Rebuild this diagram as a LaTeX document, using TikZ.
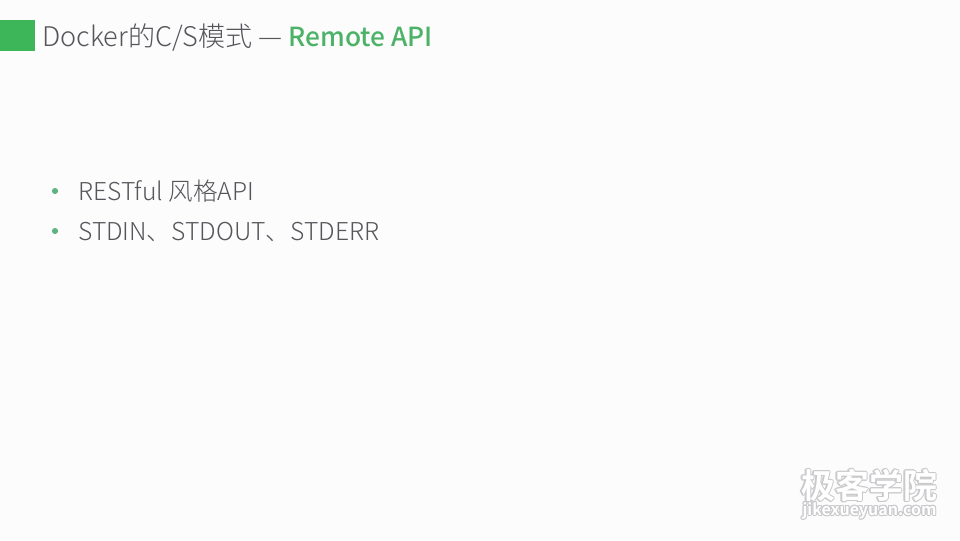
\documentclass[tikz,border=0pt]{standalone}
\usepackage{fontspec}
\usepackage{contour}
\setmainfont{Noto Sans CJK SC}
\newfontfamily\lightfont{Noto Sans CJK SC Light}
\contourlength{0.8pt}
\contournumber{12}
\definecolor{slidebg}{HTML}{FCFCFD}
\definecolor{accent}{HTML}{3DB65A}
\definecolor{titlegreen}{HTML}{4CB267}
\definecolor{bodygray}{HTML}{55555A}
\definecolor{bulletgreen}{HTML}{5FB37E}
\definecolor{markgray}{HTML}{CACACD}

\tikzset{
  px/.style={x=0.75pt,y=-0.75pt},
  titletext/.style={anchor=base west,inner sep=0pt,text=bodygray,font=\fontsize{20.3}{24}\lightfont},
  itemtext/.style={anchor=base west,inner sep=0pt,text=bodygray,font=\fontsize{18.45}{22}\lightfont},
  itemdot/.style={circle,fill=bulletgreen,inner sep=0pt,minimum size=4.6pt},
  wmark/.style={inner sep=0pt,text=white}
}

\begin{document}
\begin{tikzpicture}[px]
\useasboundingbox (0,0) rectangle (960,540);
\fill[slidebg] (0,0) rectangle (960,540);
% title bar
\fill[accent] (0,20) rectangle (34.5,50.5);
\node [titletext] (title) at (42,46) {Docker的C/S模式 — \textcolor{titlegreen}{\fontsize{19.7}{24}\fontspec{Noto Sans CJK SC Medium}Remote API}};
% bullets
\node [itemtext] (rest) at (78,200) {RESTful 风格API};
\node [itemtext] (std) at (78,240) {STDIN、STDOUT、STDERR};
\node [itemdot] (dota) at (55,191) {};
\node [itemdot] (dotb) at (55,231) {};
% watermark
\node [wmark,font=\fontsize{25.5}{28}\fontspec{Noto Sans CJK SC Bold}] (logo) at (869,486) {\contour{markgray}{极客学院}};
\node [wmark,font=\fontsize{12}{14}\fontspec{Noto Sans CJK SC Bold}] (site) at (869.5,511) {\contour{markgray}{jikexueyuan.com}};
\end{tikzpicture}
\end{document}
